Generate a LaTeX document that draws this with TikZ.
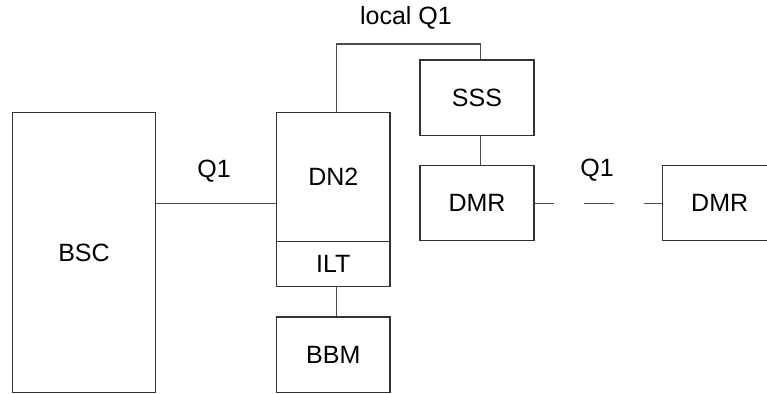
\documentclass[tikz,border=0pt]{standalone}
\usepackage{fontspec}
\setmainfont{Liberation Sans}
\usepackage{tikz}
\usetikzlibrary{calc,positioning}

\begin{document}
\begin{tikzpicture}[x=0.5pt, y=-0.5pt, font=\fontsize{12.5}{15}\selectfont]
          \tikzstyle{box} = [draw=black!80, line width=0.6pt, rectangle, inner sep=0pt, align=center]
          \tikzstyle{wire} = [draw=black!70, line width=0.6pt]

          \useasboundingbox (0,0) rectangle (767,394);

          % boxes
          \node[box, minimum width=71.8pt, minimum height=140pt] (bsc) at (84, 252.7) {BSC};
          \node[box, minimum width=56.7pt, minimum height=64.5pt] (dn2) at (333.3, 177.2) {DN2};
          \node[box, minimum width=56.7pt, minimum height=22.5pt] (ilt) at (333.3, 264.2) {ILT};
          \node[box, minimum width=56.7pt, minimum height=37.8pt] (bbm) at (333.3, 354.8) {BBM};
          \node[box, minimum width=57pt, minimum height=37.8pt] (sss) at (477, 97.8) {SSS};
          \node[box, minimum width=57pt, minimum height=37.6pt] (dmra) at (477, 203.3) {DMR};
          \node[box, minimum width=57pt, minimum height=37.6pt] (dmrb) at (719.7, 203.3) {DMR};

          % labels
          \node (lq1) at (406, 18) {local Q1};
          \node (q1a) at (214, 171) {Q1};
          \node (q1b) at (597, 170) {Q1};

          % links
          \draw[wire] (bsc.east |- dmra) -- (dn2.west |- dmra);
          \draw[wire] ([xshift=1.75pt]dn2.north) -- ++(0,-68) -| ([xshift=1.75pt]sss.north);
          \draw[wire] ([xshift=1.75pt]ilt.south) -- ([xshift=1.75pt]bbm.north);
          \draw[wire] ([xshift=1.75pt]sss.south) -- ([xshift=1.75pt]dmra.north);
          \draw[wire, dash pattern=on 15pt off 15pt, dash phase=5.5pt] (dmra.east) -- (dmrb.west);
        \end{tikzpicture}
\end{document}
